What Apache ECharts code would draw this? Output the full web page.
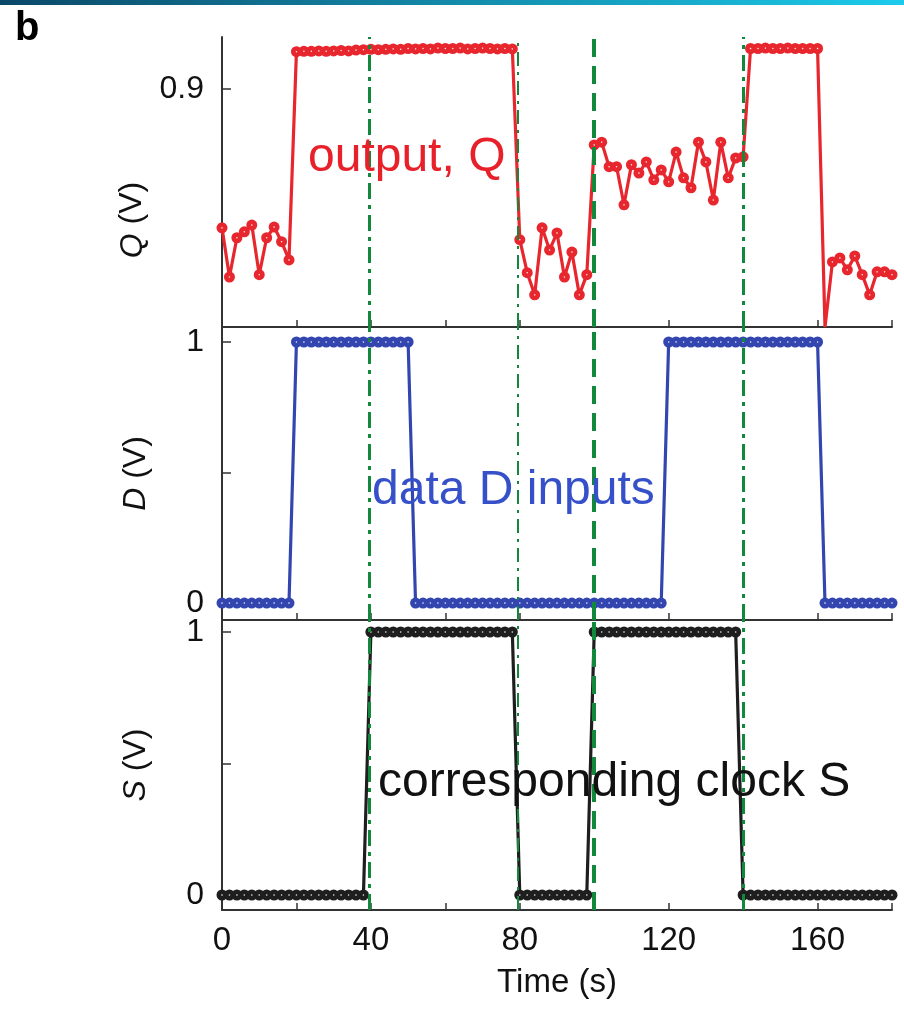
<!DOCTYPE html>
<html>
<head>
<meta charset="utf-8">
<script src="https://cdn.jsdelivr.net/npm/echarts@6/dist/echarts.min.js"></script>
<style>
html, body { margin: 0; padding: 0; background: #fff; }
#chart { width: 904px; height: 1010px; }
</style>
</head>
<body>
<div id="chart"></div>
<script>
// sample times (s), one point every 2 s
var times = [0, 2, 4, 6, 8, 10, 12, 14, 16, 18, 20, 22, 24, 26, 28, 30, 32, 34, 36, 38,
  40, 42, 44, 46, 48, 50, 52, 54, 56, 58, 60, 62, 64, 66, 68, 70, 72, 74, 76, 78,
  80, 82, 84, 86, 88, 90, 92, 94, 96, 98, 100, 102, 104, 106, 108, 110, 112, 114, 116, 118,
  120, 122, 124, 126, 128, 130, 132, 134, 136, 138, 140, 142, 144, 146, 148, 150, 152, 154, 156, 158,
  160, 162, 164, 166, 168, 170, 172, 174, 176, 178, 180];

// output Q (V)
var qValues = [0.550, 0.426, 0.525, 0.540, 0.557, 0.432, 0.525, 0.552, 0.515, 0.469,
  0.994, 0.995, 0.995, 0.996, 0.995, 0.996, 0.997, 0.996, 0.998, 0.999,
  1.000, 0.999, 1.000, 1.001, 1.000, 1.002, 1.001, 1.002, 1.001, 1.003,
  1.002, 1.002, 1.003, 1.001, 1.002, 1.003, 1.002, 1.001, 1.002, 1.001,
  0.520, 0.437, 0.381, 0.550, 0.494, 0.537, 0.426, 0.489, 0.381, 0.432,
  0.759, 0.766, 0.704, 0.704, 0.608, 0.709, 0.688, 0.716, 0.671, 0.696,
  0.666, 0.741, 0.676, 0.651, 0.766, 0.716, 0.620, 0.766, 0.676, 0.726, 0.729,
  1.002, 1.002, 1.003, 1.002, 1.002, 1.003, 1.002, 1.002, 1.002, 1.002,
  0.300, 0.464, 0.474, 0.444, 0.479, 0.432, 0.381, 0.439, 0.439, 0.432];

// data input D (V)
var dValues = [0, 0, 0, 0, 0, 0, 0, 0, 0, 0,
  1, 1, 1, 1, 1, 1, 1, 1, 1, 1, 1, 1, 1, 1, 1, 1,
  0, 0, 0, 0, 0, 0, 0, 0, 0, 0, 0, 0, 0, 0, 0, 0, 0, 0, 0, 0, 0, 0, 0, 0, 0, 0, 0, 0, 0, 0, 0, 0, 0, 0,
  1, 1, 1, 1, 1, 1, 1, 1, 1, 1, 1, 1, 1, 1, 1, 1, 1, 1, 1, 1, 1,
  0, 0, 0, 0, 0, 0, 0, 0, 0, 0];

// clock S (V)
var sValues = [0, 0, 0, 0, 0, 0, 0, 0, 0, 0, 0, 0, 0, 0, 0, 0, 0, 0, 0, 0,
  1, 1, 1, 1, 1, 1, 1, 1, 1, 1, 1, 1, 1, 1, 1, 1, 1, 1, 1, 1,
  0, 0, 0, 0, 0, 0, 0, 0, 0, 0,
  1, 1, 1, 1, 1, 1, 1, 1, 1, 1, 1, 1, 1, 1, 1, 1, 1, 1, 1, 1,
  0, 0, 0, 0, 0, 0, 0, 0, 0, 0, 0, 0, 0, 0, 0, 0, 0, 0, 0, 0, 0];

// clock edges (s), green dash-dot guides
var clockEdges = [39.5, 79.5, 100, 140];
var timeTicks = [0, 40, 80, 120, 160];

var FONT = "'Liberation Sans', Arial, sans-serif";
var GREEN = '#11883c';

// points sitting on the bottom of the axis range are drawn without a dot (the Q glitch)
function pairs(vals, floor) {
  var out = [];
  for (var i = 0; i < times.length; i++) {
    if (floor !== undefined && vals[i] <= floor) {
      out.push({ value: [times[i], vals[i]], symbolSize: 0 });
    } else {
      out.push([times[i], vals[i]]);
    }
  }
  return out;
}

// mostly solid dot with a small pale speck in the middle
function dotColor(c) {
  return {
    type: 'radial', x: 0.5, y: 0.5, r: 0.5,
    colorStops: [{ offset: 0, color: '#ffffff' }, { offset: 0.22, color: c }, { offset: 1, color: c }]
  };
}

// each edge gets its own dash pattern like the original
var edgeStyles = [
  { width: 3, type: [16, 6, 4, 6] },
  { width: 2, type: [14, 6, 3, 6] },
  { width: 4, type: [18, 9] },
  { width: 3, type: [16, 6, 4, 6] }
];
function edgeLines() {
  return {
    silent: true,
    symbol: 'none',
    label: { show: false },
    data: clockEdges.map(function (x, i) {
      return { xAxis: x, lineStyle: { color: GREEN, width: edgeStyles[i].width, type: edgeStyles[i].type } };
    })
  };
}

function xAxisFor(idx, showLabel) {
  return {
    type: 'value', gridIndex: idx, min: 0, max: 180, interval: 20,
    axisLine: { show: true, onZero: false, lineStyle: { color: '#333', width: 2 } },
    axisTick: { show: true, inside: true, length: 7, lineStyle: { color: '#333', width: 1.5 } },
    splitLine: { show: false },
    axisLabel: {
      show: showLabel, margin: 14, color: '#111', fontSize: 33, fontFamily: FONT,
      formatter: function (v) { return timeTicks.indexOf(v) >= 0 ? String(v) : ''; }
    },
    name: showLabel ? 'Time (s)' : '',
    nameLocation: 'middle', nameGap: 56,
    nameTextStyle: { color: '#111', fontSize: 33, fontFamily: FONT }
  };
}

function yAxisFor(idx, letter, min, max, ticks, labels, pad) {
  return {
    type: 'value', gridIndex: idx, min: min, max: max,
    axisLine: { show: true, onZero: false, lineStyle: { color: '#333', width: 2 } },
    axisTick: { show: true, inside: true, length: 9, customValues: ticks, lineStyle: { color: '#333', width: 1.5 } },
    splitLine: { show: false },
    axisLabel: { customValues: labels, margin: 18, color: '#111', fontSize: 32, fontFamily: FONT },
    name: '{i|' + letter + '} (V)',
    nameLocation: 'middle', nameGap: 70,
    nameTextStyle: {
      color: '#111', fontSize: 32, fontFamily: FONT, padding: pad,
      rich: { i: { fontStyle: 'italic', fontSize: 32, fontFamily: FONT, color: '#111' } }
    }
  };
}

function lineSeries(idx, data, color) {
  return {
    type: 'line', xAxisIndex: idx, yAxisIndex: idx,
    data: data,
    symbol: 'circle', symbolSize: 11,
    lineStyle: { color: color, width: 3.2 },
    itemStyle: { color: dotColor(color), borderWidth: 0 },
    animation: false,
    markLine: edgeLines()
  };
}

var myChart = echarts.init(document.getElementById('chart'));
myChart.setOption({
  backgroundColor: '#fff',
  animation: false,
  grid: [
    { left: 222, right: 12, top: 37, height: 290 },
    { left: 222, right: 12, top: 327, height: 293 },
    { left: 222, right: 12, top: 620, height: 290 }
  ],
  xAxis: [xAxisFor(0, false), xAxisFor(1, false), xAxisFor(2, true)],
  yAxis: [
    yAxisFor(0, 'Q', 0.3, 1.031, [0.9], [0.9], [0, 76, 0, 0]),
    yAxisFor(1, 'D', -0.065, 1.0575, [0, 0.5, 1], [0, 1], 0),
    yAxisFor(2, 'S', -0.057, 1.0456, [0, 0.5, 1], [0, 1], 0)
  ],
  series: [
    lineSeries(0, pairs(qValues, 0.3), '#e8262e'),
    lineSeries(1, pairs(dValues), '#3346b0'),
    lineSeries(2, pairs(sValues), '#1e1e1e')
  ],
  graphic: [
    {
      type: 'rect', left: 0, top: 0, shape: { width: 904, height: 5 },
      style: {
        fill: new echarts.graphic.LinearGradient(0, 0, 1, 0, [
          { offset: 0, color: '#0b4868' }, { offset: 1, color: '#1ccbea' }
        ])
      }
    },
    { type: 'text', left: 15, top: 9, style: { text: 'b', fontSize: 40, fontWeight: 'bold', fontFamily: FONT, fill: '#000' } },
    { type: 'text', left: 308, top: 134, z: 10, style: { text: 'output, Q', fontSize: 48, fontFamily: FONT, fill: '#e8202a' } },
    { type: 'text', left: 372, top: 467, z: 10, style: { text: 'data D inputs', fontSize: 48, fontFamily: FONT, fill: '#3550c8' } },
    { type: 'text', left: 378, top: 759, z: 10, style: { text: 'corresponding clock S', fontSize: 48, fontFamily: FONT, fill: '#111' } }
  ]
});
</script>
</body>
</html>
